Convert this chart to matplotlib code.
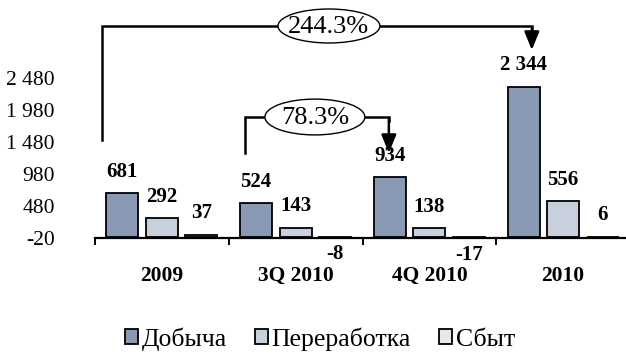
import matplotlib
matplotlib.use("Agg")
import matplotlib.pyplot as plt
from matplotlib.patches import Ellipse
import numpy as np

# Data
categories = ["2009", "3Q 2010", "4Q 2010", "2010"]
series_names = ["Добыча", "Переработка", "Сбыт"]
dobycha = [681, 524, 934, 2344]
pererabotka = [292, 143, 138, 556]
sbyt = [37, -8, -17, 6]
yticks = [-20, 480, 980, 1480, 1980, 2480]
growth_labels = ["244.3%", "78.3%"]

colors = ["#8998B3", "#C9D0DD", "#E5E8EF"]
series = [dobycha, pererabotka, sbyt]

plt.rcParams["font.family"] = ["Liberation Serif", "DejaVu Serif"]


def fmt(v):
    return f"{v:,}".replace(",", " ")


fig = plt.figure(figsize=(6.26, 3.54), dpi=100)
ax = fig.add_axes([95 / 626, (354 - 238.3) / 354, 535 / 626, 238.1 / 354])

x = np.arange(len(categories))
width = 0.24
offsets = [-0.295, 0.0, 0.295]

for vals, off, col in zip(series, offsets, colors):
    ax.bar(x + off, vals, width, color=col, edgecolor="black", linewidth=1.3, zorder=2)
    for xi, v in zip(x, vals):
        dy = 15.5 if v >= 0 else -12
        ax.annotate(fmt(v), (xi + off, v), xytext=(0, dy),
                    textcoords="offset points", ha="center", va="center",
                    fontsize=15, fontweight="bold", zorder=4)

ax.set_xlim(-0.5, 3.5)
ax.set_ylim(-20, 3700)
ax.set_yticks(yticks)
ax.set_yticklabels([fmt(t) for t in yticks], fontsize=15.5)
ax.tick_params(axis="y", length=0, pad=29)

ax.set_xticks(np.arange(-0.5, 4.0, 1.0))
ax.set_xticklabels([])
ax.tick_params(axis="x", direction="out", length=5, width=1.4, color="black")

for s in ["top", "right", "left"]:
    ax.spines[s].set_visible(False)
ax.spines["bottom"].set_linewidth(1.6)

for xi, c in zip(x, categories):
    ax.text(xi, -0.158, c, transform=ax.get_xaxis_transform(), ha="center",
            va="center", fontsize=15.5, fontweight="bold")


# Growth connectors with oval labels
def connector(x0, y0, y_top, x1, y_tip, ex, ew, eh, label):
    ax.plot([x0, x0, x1, x1], [y0, y_top, y_top, y_top - 60], color="black",
            lw=1.8, clip_on=False, zorder=3, solid_joinstyle="miter")
    ax.annotate("", xy=(x1, y_tip), xytext=(x1, y_top - 40),
                arrowprops=dict(arrowstyle="-|>,head_length=1.1,head_width=0.45",
                                color="black", lw=1.8, shrinkA=0, shrinkB=0),
                annotation_clip=False, zorder=3)
    ax.add_patch(Ellipse((ex, y_top), ew, eh, facecolor="white", edgecolor="black",
                         lw=1.0, clip_on=False, zorder=4))
    ax.text(ex, y_top - 20, label, ha="center", va="center", fontsize=19, zorder=5)


connector(-0.448, 1516, 3297, 2.766, 2922, 1.249, 0.762, 531, growth_labels[0])
connector(0.621, 1312, 1875, 1.697, 1312, 1.144, 0.747, 560, growth_labels[1])

handles = [plt.Rectangle((0, 0), 1, 1, facecolor=c, edgecolor="black", lw=1.3) for c in colors]
fig.legend(handles, series_names, loc="center", bbox_to_anchor=(320 / 626, 1 - 339 / 354),
           ncol=3, frameon=False, fontsize=18.5, handlelength=0.5, handleheight=0.5,
           handletextpad=0.15, columnspacing=1.1, borderpad=0.1)

fig.savefig("out.png", dpi=100)
